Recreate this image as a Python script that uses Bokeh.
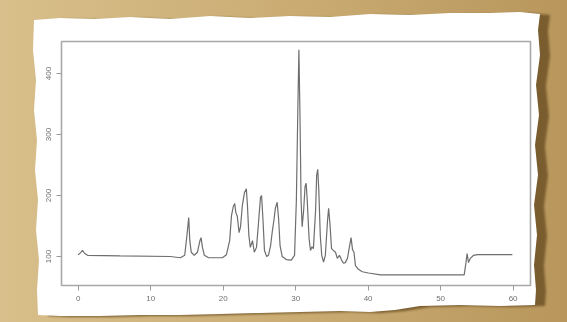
from bokeh.plotting import figure
from bokeh.layouts import column
from bokeh.models import Range1d, FixedTicker, ColumnDataSource
from bokeh.embed import file_html
from bokeh.resources import INLINE

# Chromatogram-like trace (time, intensity)
time = [0.0, 0.32, 0.6, 0.9, 1.3, 5.8, 12.7, 14.1, 14.7, 15.0, 15.25, 15.4, 15.6, 16.0,
        16.45, 16.8, 16.95, 17.15, 17.4, 18.0, 19.9, 20.45, 20.9, 21.15, 21.4, 21.6,
        21.75, 21.95, 22.2, 22.4, 22.65, 22.95, 23.2, 23.35, 23.55, 23.75, 24.05, 24.3,
        24.6, 24.85, 25.15, 25.3, 25.5, 25.7, 26.0, 26.25, 26.55, 26.8, 27.0, 27.2,
        27.45, 27.65, 27.85, 28.15, 28.7, 29.4, 29.85, 30.1, 30.3, 30.45, 30.6, 30.75,
        30.9, 31.1, 31.3, 31.45, 31.6, 31.85, 32.05, 32.25, 32.45, 32.75, 32.9, 33.05,
        33.2, 33.4, 33.6, 33.85, 34.1, 34.4, 34.55, 34.75, 34.95, 35.2, 35.5, 35.75,
        36.05, 36.3, 36.6, 36.85, 37.15, 37.45, 37.65, 37.85, 38.05, 38.25, 38.65, 39.2,
        40.05, 41.7, 44.45, 49.95, 53.25, 53.5, 53.65, 53.85, 54.1, 54.55, 55.1, 57.55, 59.9]
signal = [103, 106, 110, 105, 102, 101, 100, 98, 102, 134, 164, 126, 107, 102,
          107, 126, 131, 115, 102, 98, 98, 103, 126, 167, 182, 187,
          172, 166, 139, 149, 184, 205, 211, 184, 134, 115, 126, 107,
          115, 151, 197, 200, 159, 110, 100, 102, 118, 143, 159, 179,
          189, 162, 118, 100, 95, 94, 102, 192, 339, 439, 330, 192,
          149, 175, 215, 220, 192, 130, 110, 116, 113, 175, 233, 243,
          208, 134, 102, 91, 102, 159, 179, 151, 113, 110, 107, 97,
          102, 95, 89, 90, 97, 118, 131, 111, 107, 85, 79, 75,
          73, 70, 70, 70, 70, 90, 105, 90, 97, 102, 103, 103, 103]

x_ticks = [0, 10, 20, 30, 40, 50, 60]
y_ticks = [100, 200, 300, 400]

W, H = 567, 322

# torn-paper outline (page pixels), used only as a CSS clip shape
paper_outline = [(34, 20), (60, 18), (95, 19), (130, 17), (170, 19), (210, 16), (250, 18), (290, 16),
                 (330, 17), (370, 14), (410, 15), (450, 13), (490, 13), (520, 12), (540, 14),
                 (538, 30), (540, 55), (536, 85), (539, 115), (535, 145), (538, 175), (534, 205),
                 (537, 235), (534, 265), (536, 290), (535, 305),
                 (500, 306), (460, 305), (420, 306), (395, 310), (370, 312), (340, 311), (300, 312),
                 (260, 313), (220, 314), (180, 315), (140, 315), (100, 316), (60, 316), (38, 315),
                 (37, 290), (39, 260), (36, 230), (38, 200), (35, 170), (37, 140), (34, 110),
                 (36, 80), (33, 50)]
clip = "polygon(" + ", ".join(f"{a}px {b}px" for a, b in paper_outline) + ")"

p = figure(width=W, height=H, output_backend="svg", toolbar_location=None,
           x_range=Range1d(-2.3, 62.4), y_range=Range1d(52.5, 452.5),
           min_border_left=61, min_border_right=37, min_border_top=41, min_border_bottom=37,
           styles={"clip-path": clip})
p.border_fill_color = "white"
p.background_fill_color = "white"
p.outline_line_color = "#a8a8a8"
p.outline_line_width = 1.6
p.grid.visible = False

src = ColumnDataSource(dict(t=time, s=signal))
p.line("t", "s", source=src, line_color="#6e6e6e", line_width=1.2)

for ax in (p.xaxis[0], p.yaxis[0]):
    ax.axis_line_color = None
    ax.major_tick_line_color = "#9a9a9a"
    ax.major_tick_out = 5
    ax.major_tick_in = 0
    ax.minor_tick_line_color = None
    ax.major_label_text_font = "Liberation Sans"
    ax.major_label_text_font_size = "8px"
    ax.major_label_text_color = "#707070"
p.xaxis[0].ticker = FixedTicker(ticks=x_ticks)
p.yaxis[0].ticker = FixedTicker(ticks=y_ticks)
p.yaxis[0].major_label_orientation = "vertical"

layout = column(p, styles={"filter": "drop-shadow(10px 1px 1px #7a5d2e)"})

html = file_html(layout, INLINE)
html = html.replace(
    "<head>",
    "<head><style>html,body{margin:0;background:linear-gradient(90deg,#d8bf8b 0%,#cbad74 50%,#b8965c 100%);}</style>",
    1)
open("out.html", "w").write(html)
